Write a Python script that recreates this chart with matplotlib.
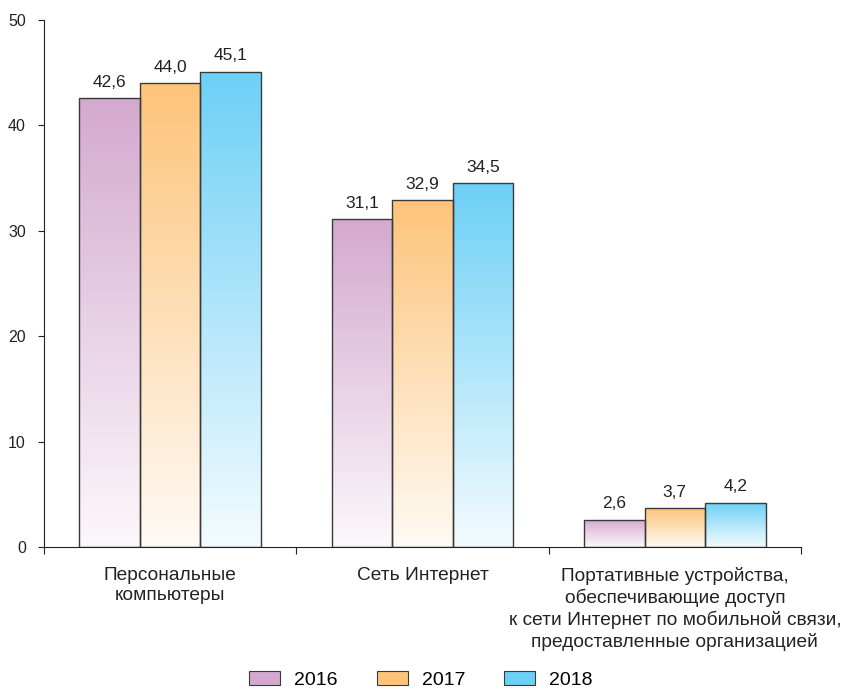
import numpy as np
import matplotlib
matplotlib.use("Agg")
import matplotlib.pyplot as plt
from matplotlib.colors import to_rgb
from matplotlib.patches import Patch

categories = ["Персональные\nкомпьютеры",
              "Сеть Интернет",
              "Портативные устройства,\nобеспечивающие доступ\nк сети Интернет по мобильной связи,\nпредоставленные организацией"]
years = ["2016", "2017", "2018"]
values = {
    "2016": [42.6, 31.1, 2.6],
    "2017": [44.0, 32.9, 3.7],
    "2018": [45.1, 34.5, 4.2],
}
colors = {"2016": "#D4A9CF", "2017": "#FDC47A", "2018": "#6DD0F6"}

plt.rcParams['font.family'] = ['Liberation Sans', 'DejaVu Sans']

fig = plt.figure(figsize=(8.42, 6.92), dpi=100)
ax = fig.add_axes([44 / 842, (692 - 547) / 692, (801 - 44) / 842, (547 - 20) / 692])

x = np.arange(len(categories))
bw = 0.24
edge = "#3a3a3a"


def grad_bar(ax, x0, h, w, col):
    # bar outline on top, vertical gradient (white -> colour) clipped inside
    top = np.array(to_rgb(col))
    bot = np.array([1.0, 1.0, 1.0]) * 0.92 + top * 0.08
    t = np.linspace(0, 1, 256)[:, None]
    img = bot[None, :] * (1 - t) + top[None, :] * t
    img = img[:, None, :]
    bar = ax.bar(x0, h, w, align="edge", facecolor="none", edgecolor=edge, linewidth=1.0, zorder=3)[0]
    im = ax.imshow(img, extent=[x0, x0 + w, 0, h], origin="lower", aspect="auto", zorder=2)
    im.set_clip_path(bar)


for i, y in enumerate(years):
    for j, v in enumerate(values[y]):
        x0 = x[j] - 1.5 * bw + i * bw
        grad_bar(ax, x0, v, bw, colors[y])
        ax.text(x0 + bw / 2, v + 0.8, f"{v:.1f}".replace(".", ","), ha="center", va="bottom",
                fontsize=12.5, color="#222222")

ax.set_xlim(-0.5, 2.5)
ax.set_ylim(0, 50)
ax.set_aspect("auto")
ax.set_yticks(np.arange(0, 51, 10))
ax.set_xticks([-0.5, 0.5, 1.5, 2.5])
ax.set_xticklabels([])
ax.tick_params(axis="y", length=4, labelsize=11.5, pad=9, colors="#222222")
ax.tick_params(axis="x", length=5, direction="out", colors="#222222")
for j, c in enumerate(categories):
    ax.text(x[j], -1.9, c, ha="center", va="top", fontsize=13.8, linespacing=1.26,
            color="#222222")

for s in ["top", "right"]:
    ax.spines[s].set_visible(False)
ax.spines["left"].set_color("#222222")
ax.spines["bottom"].set_color("#222222")

handles = [Patch(facecolor=colors[y], edgecolor=edge, linewidth=0.8, label=y) for y in years]
fig.legend(handles=handles, loc="center", bbox_to_anchor=(0.5, (692 - 680) / 692), ncol=3,
           frameon=False, fontsize=14, handlelength=1.6, handleheight=0.77, columnspacing=2.0,
           handletextpad=0.72)

fig.savefig("out.png", dpi=100)
